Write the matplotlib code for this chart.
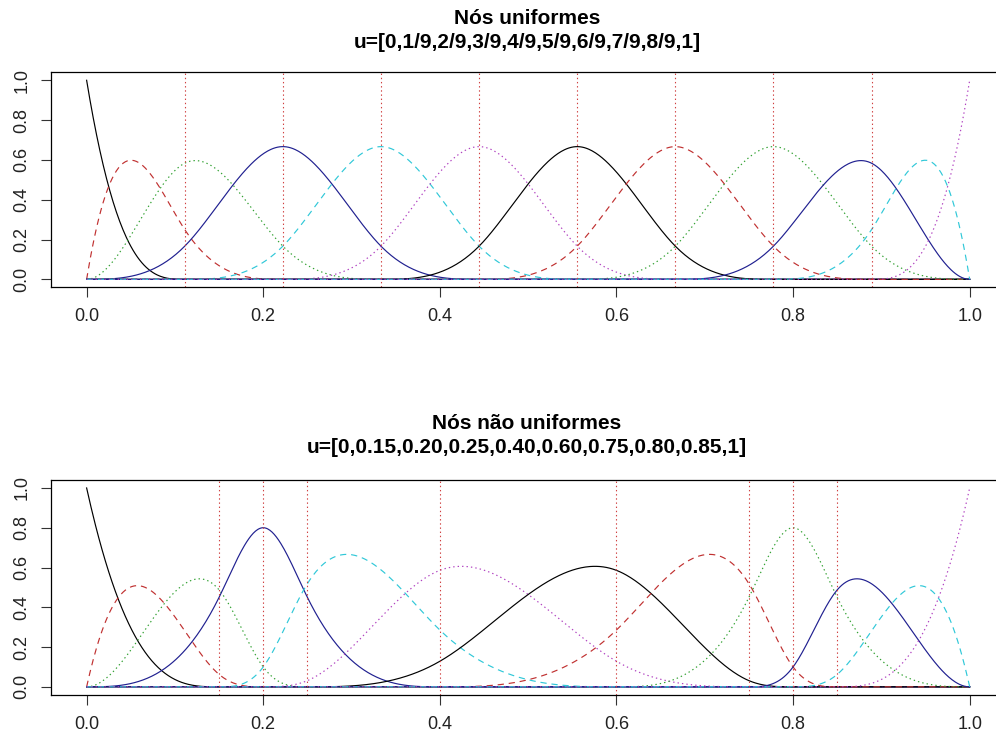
import numpy as np
import matplotlib
matplotlib.use("Agg")
import matplotlib.pyplot as plt

plt.rcParams['font.family'] = ['Liberation Sans', 'DejaVu Sans']
plt.rcParams['lines.scale_dashes'] = False

# knot vectors (without the repeated end knots)
uniform_knots = [0, 1/9, 2/9, 3/9, 4/9, 5/9, 6/9, 7/9, 8/9, 1]
nonuniform_knots = [0, 0.15, 0.20, 0.25, 0.40, 0.60, 0.75, 0.80, 0.85, 1]

titles = ["Nós uniformes\nu=[0,1/9,2/9,3/9,4/9,5/9,6/9,7/9,8/9,1]",
          "Nós não uniformes\nu=[0,0.15,0.20,0.25,0.40,0.60,0.75,0.80,0.85,1]"]

degree = 3
xticks = [0.0, 0.2, 0.4, 0.6, 0.8, 1.0]
yticks = [0.0, 0.2, 0.4, 0.6, 0.8, 1.0]

# R palette order, lty 1:3 cycling
colors = ["black", "#c03030", "#30a030", "#202090", "#30c8d8", "#b040c0"]
dashes = [None, (4.5, 3.5), (1.0, 2.2)]


def bspline_basis(knots, p, x):
    # Cox-de Boor recursion on a clamped knot vector
    t = np.r_[[knots[0]] * p, knots, [knots[-1]] * p].astype(float)
    B = np.zeros((len(x), len(t) - 1))
    for i in range(len(t) - 1):
        if t[i] < t[i + 1]:
            B[:, i] = (x >= t[i]) & (x < t[i + 1])
    last = np.where(t[:-1] < t[1:])[0][-1]
    B[x >= t[-1], last] = 1.0
    for k in range(1, p + 1):
        Bn = np.zeros((len(x), len(t) - 1 - k))
        for i in range(len(t) - 1 - k):
            d1 = t[i + k] - t[i]
            d2 = t[i + k + 1] - t[i + 1]
            if d1 > 0:
                Bn[:, i] += (x - t[i]) / d1 * B[:, i]
            if d2 > 0:
                Bn[:, i] += (t[i + k + 1] - x) / d2 * B[:, i + 1]
        B = Bn
    return B


fig = plt.figure(figsize=(9.96, 7.40), dpi=100)
W, H = 996.0, 740.0
# axes boxes in pixels: left, top, right, bottom
boxes = [(51.3, 72.3, 1005.0, 287.3), (51.3, 480.0, 1005.0, 694.8)]
title_y = [(19, 43), (423, 447)]

xs = np.linspace(0, 1, 801)

for knots, title, box, ty in zip([uniform_knots, nonuniform_knots], titles, boxes, title_y):
    l, t, r, b = box
    ax = fig.add_axes([l / W, 1 - b / H, (r - l) / W, (b - t) / H])
    B = bspline_basis(knots, degree, xs)
    for j in range(B.shape[1]):
        line, = ax.plot(xs, B[:, j], color=colors[j % 6], lw=0.85)
        d = dashes[j % 3]
        if d is not None:
            line.set_dashes(d)
    for v in knots[1:-1]:
        ax.axvline(v, color="#d04040", lw=0.8, dashes=(1.0, 2.0))
    ax.set_xlim(-0.04, 1.04)
    ax.set_ylim(-0.04, 1.04)
    ax.set_xticks(xticks)
    ax.set_xticklabels(["%.1f" % v for v in xticks])
    ax.set_yticks(yticks)
    ax.set_yticklabels(["%.1f" % v for v in yticks], rotation=90, va="center")
    ax.tick_params(length=7, width=0.8, labelsize=13, color="#333333",
                   labelcolor="#222222")
    ax.tick_params(axis="x", pad=8)
    ax.tick_params(axis="y", pad=8)
    for s in ax.spines.values():
        s.set_linewidth(0.9)
    line1, line2 = title.split("\n")
    fig.text(527 / W, 1 - ty[0] / H, line1, ha="center", va="center",
             fontsize=15, fontweight="bold")
    fig.text(527 / W, 1 - ty[1] / H, line2, ha="center", va="center",
             fontsize=15, fontweight="bold")

fig.savefig("out.png", dpi=100)
